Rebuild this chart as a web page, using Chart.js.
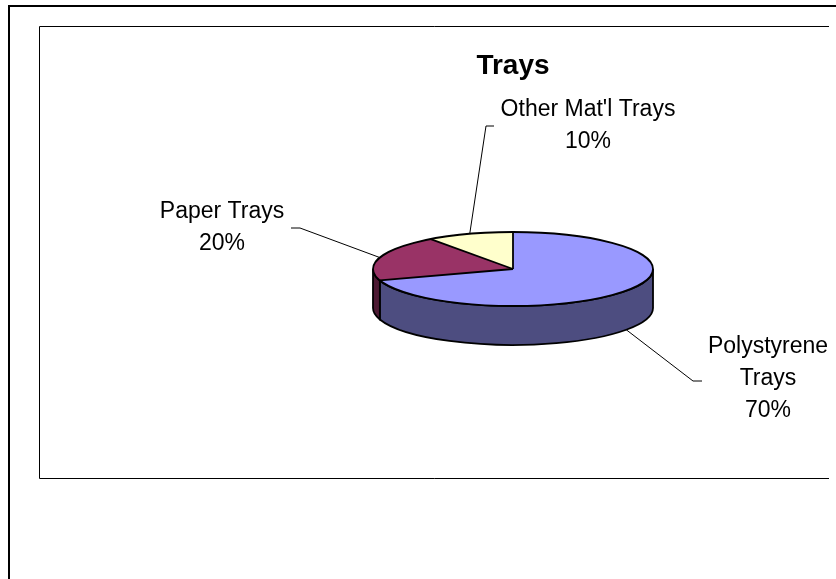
<!DOCTYPE html>
<html>
<head>
<meta charset="utf-8">
<title>Trays</title>
<script src="https://cdn.jsdelivr.net/npm/chart.js@4"></script>
<style>
  html, body { margin: 0; padding: 0; background: #fff; }
  #trays { display: block; }
</style>
</head>
<body>
<canvas id="trays" width="836" height="579"></canvas>
<script>
const categories = ['Polystyrene Trays', 'Paper Trays', "Other Mat'l Trays"];
const shares = [70, 20, 10];
const labelLines = [['Polystyrene', 'Trays'], ['Paper Trays'], ["Other Mat'l Trays"]];
const faceColors = ['#9999FF', '#993366', '#FFFFCC'];

const FONT = '"Liberation Sans", Arial, sans-serif';
const TILT = 37 / 140;   // how much the pie face is squashed vertically
const DEPTH = 39;        // thickness of the pie

// leader elbow, end of the short tail, text centre and first baseline for each slice label
const labelPlacement = [
    { elbow: [693, 381], tail: 702, x: 768, y: 353 },
    { elbow: [300, 228], tail: 291, x: 222, y: 218 },
    { elbow: [486, 126], tail: 494, x: 588, y: 116 }
];

const darken = (hex) => {
    const n = parseInt(hex.slice(1), 16);
    const c = [(n >> 16) & 255, (n >> 8) & 255, n & 255].map(v => Math.round(v * 0.5));
    return `rgb(${c[0]}, ${c[1]}, ${c[2]})`;
};

const arcProps = (arc) => arc.getProps(['x', 'y', 'startAngle', 'endAngle', 'outerRadius'], true);

const pie3d = {
    id: 'pie3d',
    beforeDraw(chart) {
        const ctx = chart.ctx;
        ctx.save();
        ctx.fillStyle = '#fff';
        ctx.fillRect(0, 0, chart.width, chart.height);
        ctx.strokeStyle = '#000';
        // outer frame
        ctx.lineWidth = 2;
        ctx.beginPath();
        ctx.moveTo(9, chart.height);
        ctx.lineTo(9, 6);
        ctx.lineTo(chart.width, 6);
        ctx.stroke();
        // plot area frame
        ctx.lineWidth = 1;
        ctx.beginPath();
        ctx.moveTo(829, 26.5);
        ctx.lineTo(39.5, 26.5);
        ctx.lineTo(39.5, 478.5);
        ctx.lineTo(829, 478.5);
        ctx.stroke();
        ctx.restore();
    },
    beforeDatasetsDraw(chart) {
        const ctx = chart.ctx;
        const arcs = chart.getDatasetMeta(0).data;
        // side walls, only the front half (0..PI) is visible
        arcs.forEach((arc, i) => {
            const p = arcProps(arc);
            const a = Math.max(p.startAngle, 0);
            const b = Math.min(p.endAngle, Math.PI);
            if (b <= a) return;
            const rx = p.outerRadius, ry = rx * TILT;
            ctx.beginPath();
            ctx.ellipse(p.x, p.y, rx, ry, 0, a, b);
            ctx.ellipse(p.x, p.y + DEPTH, rx, ry, 0, b, a, true);
            ctx.closePath();
            ctx.fillStyle = darken(faceColors[i]);
            ctx.fill();
            ctx.lineWidth = 1.8;
            ctx.strokeStyle = '#000';
            ctx.stroke();
        });
        // squash the face drawn by the library into an ellipse
        const { x, y } = arcProps(arcs[0]);
        ctx.save();
        ctx.translate(x, y);
        ctx.scale(1, TILT);
        ctx.translate(-x, -y);
    },
    afterDatasetsDraw(chart) {
        const ctx = chart.ctx;
        ctx.restore();
        const arcs = chart.getDatasetMeta(0).data;
        const total = shares.reduce((s, v) => s + v, 0);

        ctx.save();
        ctx.strokeStyle = '#000';
        ctx.lineWidth = 1.8;
        const c = arcProps(arcs[0]);
        const rx = c.outerRadius, ry = rx * TILT;
        ctx.beginPath();
        ctx.ellipse(c.x, c.y, rx, ry, 0, 0, Math.PI * 2);
        ctx.stroke();
        arcs.forEach(arc => {
            const p = arcProps(arc);
            ctx.beginPath();
            ctx.moveTo(p.x, p.y);
            ctx.lineTo(p.x + rx * Math.cos(p.startAngle), p.y + ry * Math.sin(p.startAngle));
            ctx.stroke();
        });

        // data labels with leader lines
        ctx.font = '23px ' + FONT;
        ctx.fillStyle = '#000';
        ctx.textAlign = 'center';
        ctx.textBaseline = 'alphabetic';
        arcs.forEach((arc, i) => {
            const p = arcProps(arc);
            const mid = (p.startAngle + p.endAngle) / 2;
            let ax = p.x + rx * Math.cos(mid);
            let ay = p.y + ry * Math.sin(mid);
            if (Math.sin(mid) > 0) ay += DEPTH;
            const place = labelPlacement[i];
            ctx.lineWidth = 1;
            ctx.beginPath();
            ctx.moveTo(ax, ay);
            ctx.lineTo(place.elbow[0], place.elbow[1]);
            ctx.lineTo(place.tail, place.elbow[1]);
            ctx.stroke();
            const lines = labelLines[i].concat(Math.round(shares[i] / total * 100) + '%');
            lines.forEach((t, k) => ctx.fillText(t, place.x, place.y + k * 31.8));
        });
        ctx.restore();
    }
};

new Chart(document.getElementById('trays'), {
    type: 'pie',
    data: {
        labels: categories,
        datasets: [{
            data: shares,
            backgroundColor: faceColors,
            borderWidth: 0,
            hoverOffset: 0,
            radius: 140,
            clip: false
        }]
    },
    options: {
        responsive: false,
        animation: false,
        events: [],
        layout: { padding: { left: 190, right: 0, top: 0, bottom: 133.6 } },
        plugins: {
            legend: { display: false },
            tooltip: { enabled: false },
            title: {
                display: true,
                text: 'Trays',
                color: '#000',
                font: { family: FONT, size: 28, weight: 'bold' },
                padding: { top: 49, bottom: 10 }
            }
        }
    },
    plugins: [pie3d]
});
</script>
</body>
</html>
